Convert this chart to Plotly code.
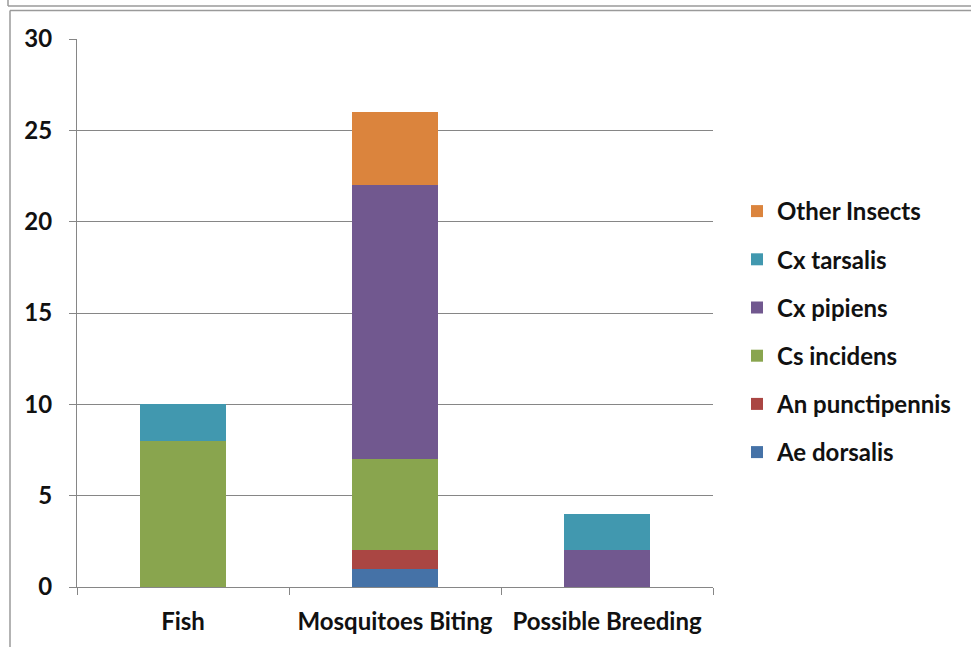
import plotly.graph_objects as go

# Sightings by activity, stacked by species
categories = ["Fish", "Mosquitoes Biting", "Possible Breeding"]
species = ["Ae dorsalis", "An punctipennis", "Cs incidens", "Cx pipiens", "Cx tarsalis", "Other Insects"]
ae_dorsalis = [0, 1, 0]
an_punctipennis = [0, 1, 0]
cs_incidens = [8, 5, 0]
cx_pipiens = [0, 15, 2]
cx_tarsalis = [2, 0, 2]
other_insects = [0, 4, 0]
y_ticks = [0, 5, 10, 15, 20, 25, 30]

series = [ae_dorsalis, an_punctipennis, cs_incidens, cx_pipiens, cx_tarsalis, other_insects]
colors = ["#4572A7", "#AA4643", "#89A54E", "#71588F", "#4198AF", "#DB843D"]

FONT = "Lato"
FS = 24
fig = go.Figure()
n = len(species)
for i, (name, vals, col) in enumerate(zip(species, series, colors)):
    fig.add_trace(go.Bar(
        x=categories, y=vals, name=name, marker=dict(color=col, line=dict(width=0)),
        legendgroup=f"g{i}", legendrank=n - i,
    ))

W, H = 971, 647
L, R, T, B = 77, 258, 39, 60
pw, ph = W - L - R, H - T - B

def px(x):
    return (x - L) / pw

def py(y):
    return (H - B - y) / ph

frame = "#9a9a9a"
shapes = [
    dict(type="line", xref="paper", yref="paper", x0=px(8), x1=px(W + 5), y0=py(6), y1=py(6),
         line=dict(color=frame, width=1.5)),
    dict(type="line", xref="paper", yref="paper", x0=px(8), x1=px(8), y0=py(-5), y1=py(6),
         line=dict(color=frame, width=1.5)),
    dict(type="line", xref="paper", yref="paper", x0=px(10), x1=px(W + 5), y0=py(10.5), y1=py(10.5),
         line=dict(color=frame, width=1.5)),
    dict(type="line", xref="paper", yref="paper", x0=px(10), x1=px(10), y0=py(10.5), y1=py(H + 5),
         line=dict(color=frame, width=1.5)),
]

fig.update_layout(
    width=W, height=H,
    margin=dict(l=L, r=R, t=T, b=B, pad=0, autoexpand=False),
    paper_bgcolor="white", plot_bgcolor="white",
    barmode="stack", bargap=0.595,
    font=dict(family=FONT, size=FS, color="#111111"),
    shapes=shapes,
    legend=dict(
        x=px(737), y=py(332), xanchor="left", yanchor="middle",
        traceorder="grouped", tracegroupgap=14,
        font=dict(family=FONT, size=FS, color="#111111", weight="bold"),
        bgcolor="rgba(0,0,0,0)", itemwidth=30,
    ),
)
fig.update_xaxes(
    tickson="boundaries", ticks="outside", ticklen=7, tickcolor="#868686", tickwidth=1,
    showline=True, linecolor="#868686", linewidth=1, showgrid=False,
    tickfont=dict(family=FONT, size=FS, weight="bold"), ticklabelstandoff=13, tickangle=0,
    range=[-0.5, 2.5],
)
fig.update_yaxes(
    range=[0, 30], tickvals=y_ticks, ticks="outside", ticklen=7, tickcolor="#868686", tickwidth=1,
    showline=True, linecolor="#868686", linewidth=1,
    showgrid=True, gridcolor="#868686", gridwidth=1, zeroline=False,
    tickfont=dict(family=FONT, size=FS, weight="bold"), ticklabelstandoff=12,
)

fig.write_html("out.html")
